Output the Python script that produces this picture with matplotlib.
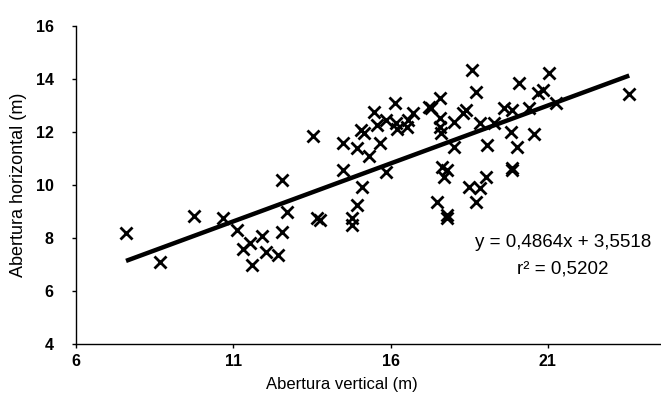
# Abertura vertical vs horizontal, scatter with linear trend

import numpy as np
import matplotlib.pyplot as plt

plt.rcParams['font.family'] = ['Liberation Sans', 'DejaVu Sans']

# Values
abertura_vertical = [
    7.59, 8.67, 9.75, 10.67, 11.11, 11.90, 11.52, 11.30, 12.03, 12.41,
    11.59, 12.54, 12.70, 12.54,
    13.52, 14.48, 14.92, 15.30, 15.65, 15.05, 15.17, 15.49, 15.56, 15.87,
    16.13, 16.19, 16.22, 16.51, 16.70, 16.54, 17.21, 14.48, 15.87, 15.08,
    14.92, 13.65, 13.75, 14.76, 14.76,
    18.60, 18.73, 17.56, 17.30, 17.56, 18.41, 18.29, 18.03, 17.56, 17.62,
    19.62, 19.87, 20.41, 19.30, 18.83, 19.84, 20.57, 19.08, 20.03, 18.03,
    20.10, 21.05, 20.86, 20.70, 23.59, 21.27, 17.65, 17.81, 17.71, 19.87,
    19.87, 18.51, 18.83, 19.02, 17.49, 18.73, 17.81, 17.78,
]
abertura_horizontal = [
    8.19, 7.09, 8.83, 8.75, 8.30, 8.08, 7.81, 7.58, 7.47, 7.36,
    6.98, 8.23, 8.98, 10.19,
    11.85, 11.57, 11.40, 11.09, 11.57, 12.08, 11.96, 12.75, 12.26, 12.45,
    13.09, 12.34, 12.11, 12.19, 12.72, 12.45, 12.94, 10.57, 10.49, 9.92,
    9.25, 8.75, 8.68, 8.75, 8.49,
    14.34, 13.51, 13.28, 12.91, 12.53, 12.83, 12.72, 12.38, 12.19, 11.96,
    12.91, 12.83, 12.91, 12.34, 12.34, 12.00, 11.92, 11.51, 11.43, 11.43,
    13.85, 14.23, 13.58, 13.47, 13.43, 13.09, 10.68, 10.57, 10.30, 10.64,
    10.57, 9.92, 9.89, 10.30, 9.36, 9.36, 8.87, 8.75,
]
x_ticks = [6, 11, 16, 21]
y_ticks = [4, 6, 8, 10, 12, 14, 16]
equation_text = 'y = 0,4864x + 3,5518'
r2_text = 'r² = 0,5202'

x = np.array(abertura_vertical)
y = np.array(abertura_horizontal)

# Linear trend through the points
slope, intercept = np.polyfit(x, y, 1)
trend_x = np.array([x.min(), x.max()])
trend_y = slope * trend_x + intercept

fig = plt.figure(figsize=(6.61, 3.95), dpi=100)
ax = fig.add_axes([0.115, 0.129, 0.885, 0.805])

ax.scatter(x, y, marker='x', s=75, linewidths=2, color='black', zorder=3)
ax.plot(trend_x, trend_y, color='black', lw=3.2, solid_capstyle='butt', zorder=2)

ax.set_xlim(6, 24.6)
ax.set_ylim(4, 16)
ax.set_xticks(x_ticks)
ax.set_yticks(y_ticks)
ax.tick_params(direction='out', length=3, width=1, labelsize=11.5)
ax.tick_params(axis='y', pad=13)
ax.tick_params(axis='x', pad=4)
for lbl in ax.get_xticklabels() + ax.get_yticklabels():
    lbl.set_fontweight('bold')

ax.spines['top'].set_visible(False)
ax.spines['right'].set_visible(False)
ax.spines['left'].set_linewidth(1)
ax.spines['bottom'].set_linewidth(1)

ax.set_xlabel('Abertura vertical (m)', fontsize=12)
ax.set_ylabel('Abertura horizontal (m)', fontsize=13, labelpad=6)
ax.xaxis.set_label_coords(0.455, -0.105)

# Equation of the trend line
fig.text(0.852, 0.385, equation_text, ha='center', va='center', fontsize=13.5)
fig.text(0.852, 0.319, r2_text, ha='center', va='center', fontsize=13.5)

fig.savefig('out.png', dpi=100)
plt.close()
